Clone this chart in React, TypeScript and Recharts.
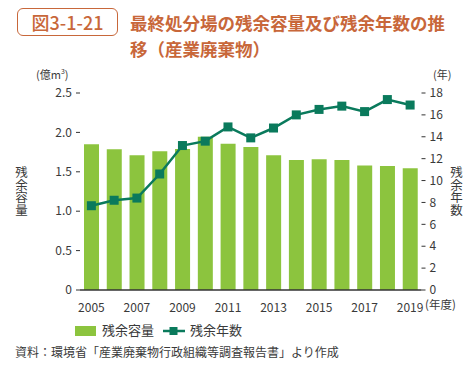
import React from 'react';
import { ComposedChart, Bar, Line, XAxis, YAxis } from 'recharts';

const years = ['2005','2006','2007','2008','2009','2010','2011','2012','2013','2014','2015','2016','2017','2018','2019'];
const capacity = [1.85, 1.785, 1.71, 1.76, 1.79, 1.945, 1.857, 1.815, 1.71, 1.65, 1.66, 1.65, 1.58, 1.575, 1.545];
const remainingYears = [7.7, 8.2, 8.4, 10.6, 13.2, 13.6, 14.9, 13.9, 14.8, 16.0, 16.5, 16.8, 16.3, 17.4, 16.9];
const leftTicks = [0, 0.5, 1.0, 1.5, 2.0, 2.5];
const rightTicks = [0, 2, 4, 6, 8, 10, 12, 14, 16, 18];

const data = years.map((y, i) => ({ year: y, capacity: capacity[i], years: remainingYears[i] }));

const FONT = '"Noto Sans CJK JP", "Noto Sans", sans-serif';
const TXT = '#3a3a3a';
const ORANGE = '#c8673a';
const BAR = '#8cc43e';
const LINE = '#0a7a5c';

const SquareDot = (props: any) => {
  const { cx, cy } = props;
  if (cx == null || cy == null) return null;
  return <rect x={cx - 4.5} y={cy - 4.5} width={9} height={9} fill={LINE} />;
};

export default function App() {
  return (
    <div style={{ position: 'absolute', left: 0, top: 0, width: 474, height: 366, background: '#fff', fontFamily: FONT, color: TXT, overflow: 'hidden' }}>
      <div style={{ position: 'absolute', left: 17, top: 8, width: 99, height: 26, border: `1.5px solid ${ORANGE}`, borderRadius: 6, color: ORANGE, fontSize: 18, fontWeight: 500, lineHeight: '26px', textAlign: 'center' }}>図3-1-21</div>
      <div style={{ position: 'absolute', left: 130, top: 10, color: ORANGE, fontSize: 17.5, fontWeight: 700, lineHeight: '26px', whiteSpace: 'nowrap' }}>
        最終処分場の残余容量及び残余年数の推<br />移（産業廃棄物）
      </div>
      <ComposedChart width={474} height={366} data={data} margin={{ top: 93, right: 0, bottom: 46, left: 0 }} style={{ position: 'absolute', left: 0, top: 0 }}>
        <XAxis dataKey="year" interval={1} tickLine={false} axisLine={{ stroke: '#333', strokeWidth: 1.5 }} tick={{ fill: TXT, fontSize: 12, fontFamily: FONT }} tickMargin={7} height={30} />
        <YAxis yAxisId="left" orientation="left" width={80} domain={[0, 2.5]} ticks={leftTicks} axisLine={false} tickLine={{ stroke: '#333' }} tickSize={4} tickMargin={4} tick={{ fill: TXT, fontSize: 12, fontFamily: FONT }} tickFormatter={(v: number) => (v === 0 ? '0' : v.toFixed(1))} />
        <YAxis yAxisId="right" orientation="right" width={52.5} domain={[0, 18]} ticks={rightTicks} axisLine={false} tickLine={{ stroke: '#333' }} tickSize={4} tickMargin={4} tick={{ fill: TXT, fontSize: 12, fontFamily: FONT }} />
        <Bar yAxisId="left" dataKey="capacity" fill={BAR} barSize={15} isAnimationActive={false} />
        <Line yAxisId="right" dataKey="years" stroke={LINE} strokeWidth={2.5} dot={<SquareDot />} activeDot={false} isAnimationActive={false} />
      </ComposedChart>
      <div style={{ position: 'absolute', left: 36, top: 69, fontSize: 11, lineHeight: '11px', whiteSpace: 'nowrap' }}>(億m<sup style={{ fontSize: 7, lineHeight: 0 }}>3</sup>)</div>
      <div style={{ position: 'absolute', left: 433, top: 69, fontSize: 11, lineHeight: '11px', whiteSpace: 'nowrap' }}>(年)</div>
      <div style={{ position: 'absolute', left: 425, top: 298, fontSize: 11.5, lineHeight: '13px', whiteSpace: 'nowrap' }}>(年度)</div>
      <div style={{ position: 'absolute', left: 13, top: 166, fontSize: 12.5, lineHeight: '16px', writingMode: 'vertical-rl', whiteSpace: 'nowrap' }}>残余容量</div>
      <div style={{ position: 'absolute', left: 448, top: 166, fontSize: 12.5, lineHeight: '16px', writingMode: 'vertical-rl', whiteSpace: 'nowrap' }}>残余年数</div>
      <div style={{ position: 'absolute', left: 75, top: 326, width: 21, height: 10, background: BAR }} />
      <div style={{ position: 'absolute', left: 102, top: 321, fontSize: 13, lineHeight: '18px', whiteSpace: 'nowrap' }}>残余容量</div>
      <svg style={{ position: 'absolute', left: 162, top: 325 }} width={24} height={12}>
        <line x1={1} y1={6} x2={23} y2={6} stroke={LINE} strokeWidth={2.5} />
        <rect x={7.5} y={2} width={8} height={8} fill={LINE} />
      </svg>
      <div style={{ position: 'absolute', left: 190, top: 321, fontSize: 13, lineHeight: '18px', whiteSpace: 'nowrap' }}>残余年数</div>
      <div style={{ position: 'absolute', left: 15, top: 343, fontSize: 12, lineHeight: '18px', whiteSpace: 'nowrap' }}>資料：環境省「産業廃棄物行政組織等調査報告書」より作成</div>
    </div>
  );
}
